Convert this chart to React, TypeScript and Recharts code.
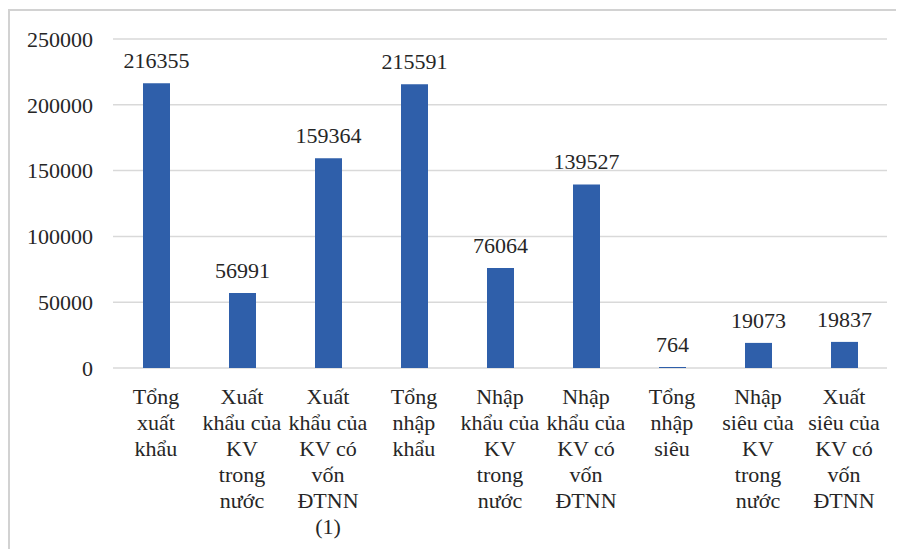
import React from 'react';
import { BarChart, Bar, XAxis, YAxis, CartesianGrid, LabelList } from 'recharts';

const categories = [
  'Tổng xuất khẩu',
  'Xuất khẩu của KV trong nước',
  'Xuất khẩu của KV có vốn ĐTNN (1)',
  'Tổng nhập khẩu',
  'Nhập khẩu của KV trong nước',
  'Nhập khẩu của KV có vốn ĐTNN',
  'Tổng nhập siêu',
  'Nhập siêu của KV trong nước',
  'Xuất siêu của KV có vốn ĐTNN',
];

const values = [216355, 56991, 159364, 215591, 76064, 139527, 764, 19073, 19837];

// how each category name is broken over lines under the axis
const labelLines = [
  ['Tổng', 'xuất', 'khẩu'],
  ['Xuất', 'khẩu của', 'KV', 'trong', 'nước'],
  ['Xuất', 'khẩu của', 'KV có', 'vốn', 'ĐTNN', '(1)'],
  ['Tổng', 'nhập', 'khẩu'],
  ['Nhập', 'khẩu của', 'KV', 'trong', 'nước'],
  ['Nhập', 'khẩu của', 'KV có', 'vốn', 'ĐTNN'],
  ['Tổng', 'nhập', 'siêu'],
  ['Nhập', 'siêu của', 'KV', 'trong', 'nước'],
  ['Xuất', 'siêu của', 'KV có', 'vốn', 'ĐTNN'],
];

const yTicks = [0, 50000, 100000, 150000, 200000, 250000];

const data = categories.map((name, i) => ({ name, value: values[i] }));

const FONT = 'Liberation Serif, DejaVu Serif, serif';
const TEXT = '#262626';
const textStyle = { fontFamily: FONT };

const CategoryTick = (props: any) => {
  const { x, y, payload } = props;
  const lines = labelLines[payload.index] || [];
  return (
    <text x={x} y={y} textAnchor="middle" fill={TEXT} fontSize={22} style={textStyle}>
      {lines.map((line, i) => (
        <tspan key={i} x={x} y={y + 36 + i * 26}>
          {line}
        </tspan>
      ))}
    </text>
  );
};

export default function App() {
  return (
    <div
      style={{
        width: 894,
        height: 539,
        marginTop: 1,
        borderTop: '2px solid #d2d2d2',
        borderLeft: '2px solid #d2d2d2',
        background: '#fff',
        fontFamily: FONT,
      }}
    >
      <BarChart
        width={894}
        height={539}
        data={data}
        margin={{ top: 28, right: 17, left: 0, bottom: 0 }}
        style={textStyle}
      >
        <CartesianGrid vertical={false} stroke="#d9d9d9" strokeWidth={1.5} />
        <XAxis
          dataKey="name"
          interval={0}
          height={182}
          axisLine={false}
          tickLine={false}
          tickSize={0}
          tickMargin={0}
          tick={<CategoryTick />}
        />
        <YAxis
          width={103}
          domain={[0, 250000]}
          ticks={yTicks}
          axisLine={false}
          tickLine={false}
          tickSize={0}
          tickMargin={20}
          tick={{ fill: TEXT, fontSize: 22, style: textStyle }}
        />
        <Bar dataKey="value" fill="#2F5FAA" barSize={27} isAnimationActive={false}>
          <LabelList
            dataKey="value"
            position="top"
            offset={15}
            fill={TEXT}
            fontSize={22}
            style={textStyle}
          />
        </Bar>
      </BarChart>
    </div>
  );
}
